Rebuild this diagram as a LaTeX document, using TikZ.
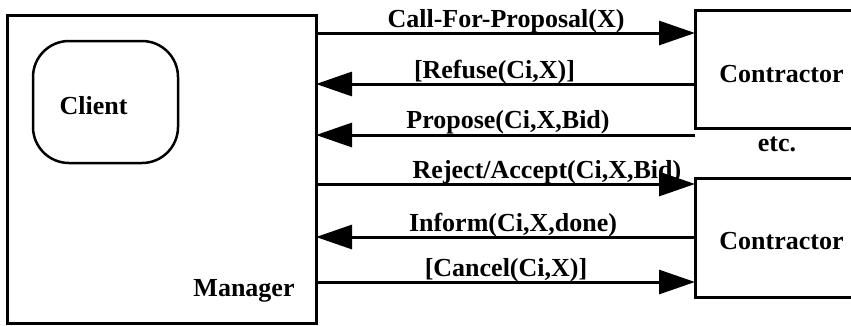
\documentclass[tikz,border=0pt]{standalone}
\usepackage{fontspec}
\setmainfont{Liberation Serif}
\usetikzlibrary{arrows.meta}

\begin{document}
\begin{tikzpicture}[x=1pt, y=-1pt,
  box/.style={draw=black, line width=3pt, inner sep=0pt, outer sep=0pt},
  lbl/.style={font=\fontsize{26}{30}\selectfont\bfseries, anchor=base, inner sep=0pt},
  msg/.style={black, line width=3pt, -{Triangle[length=36pt, width=24pt]}}]
  \useasboundingbox (0,0) rectangle (851,325);
  \clip (0,0) rectangle (851,325);
  % boxes
  \node[box, minimum width=309pt, minimum height=308pt] (manager) at (161.5,169) {};
  \node[box, line width=2.5pt, rounded corners=36pt, minimum width=145pt, minimum height=122pt] (client) at (105.5,102) {};
  \node[box, minimum width=173pt, minimum height=118pt] (upper) at (781.5,69) {};
  \node[box, minimum width=173pt, minimum height=119pt] (lower) at (781.5,237.5) {};
  \node[lbl] (clientname) at (93.5,114) {Client};
  \node[lbl] (managername) at (244,296) {Manager};
  \node[lbl] (uppername) at (781.5,82) {Contractor};
  \node[lbl] (lowername) at (781.5,249) {Contractor};
  \node[lbl] (etc) at (777,151) {etc.};
  % messages
  \draw[msg] (manager.east |- 0,33) -- (upper.west |- 0,33);
  \draw[msg] (upper.west |- 0,84) -- (manager.east |- 0,84);
  \draw[msg] (upper.west |- 0,135) -- (manager.east |- 0,135);
  \draw[msg] (manager.east |- 0,184) -- (lower.west |- 0,184);
  \draw[msg] (lower.west |- 0,237) -- (manager.east |- 0,237);
  \draw[msg] (manager.east |- 0,282) -- (lower.west |- 0,282);
  \node[lbl] (cfp) at (506,27) {Call-For-Proposal(X)};
  \node[lbl] (refuse) at (494.5,78) {[Refuse(Ci,X)]};
  \node[lbl] (propose) at (508,128) {Propose(Ci,X,Bid)};
  \node[lbl] (accept) at (547,178) {Reject/Accept(Ci,X,Bid)};
  \node[lbl] (inform) at (513,231) {Inform(Ci,X,done)};
  \node[lbl] (cancel) at (506,276) {[Cancel(Ci,X)]};
\end{tikzpicture}
\end{document}
